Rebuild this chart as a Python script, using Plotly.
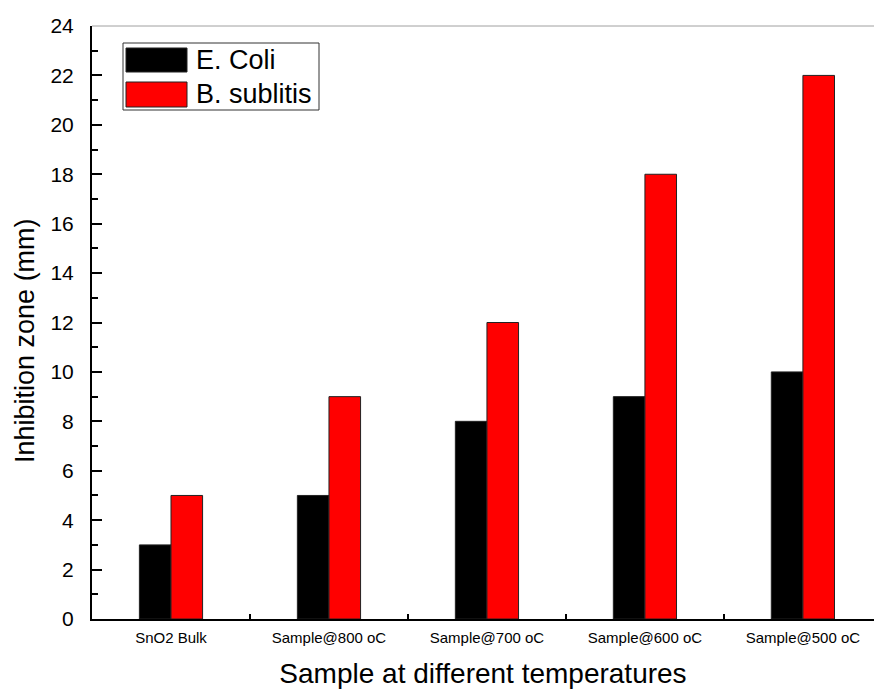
import plotly.graph_objects as go

categories = ["SnO2 Bulk", "Sample@800 oC", "Sample@700 oC", "Sample@600 oC", "Sample@500 oC"]
e_coli = [3, 5, 8, 9, 10]
b_sublitis = [5, 9, 12, 18, 22]
series_names = ["E. Coli", "B. sublitis"]
series_colors = ["#000000", "#ff0000"]
x_title = "Sample at different temperatures"
y_title = "Inhibition zone (mm)"

W, H = 874, 689
L, R, T, B = 92, 0, 26, 70
FONT = "Arial, Liberation Sans, sans-serif"


def px(x):
    return (x - L) / (W - L - R)


def py(y):
    return (H - B - y) / (H - T - B)


fig = go.Figure()
for name, vals, col in zip(series_names, [e_coli, b_sublitis], series_colors):
    fig.add_trace(go.Bar(
        x=categories, y=vals, name=name,
        marker=dict(color=col, line=dict(color="#222222", width=1)),
        showlegend=False,
    ))

shapes = [
    dict(type="line", xref="paper", yref="paper", x0=0, x1=1, y0=1, y1=1,
         line=dict(color="#a0a0a0", width=1)),
    dict(type="rect", xref="paper", yref="paper", x0=px(123), x1=px(319), y0=py(110), y1=py(43),
         line=dict(color="#333333", width=1), fillcolor="rgba(0,0,0,0)"),
    dict(type="rect", xref="paper", yref="paper", x0=px(126), x1=px(187), y0=py(72), y1=py(48),
         line=dict(color="#222222", width=1), fillcolor=series_colors[0]),
    dict(type="rect", xref="paper", yref="paper", x0=px(126), x1=px(187), y0=py(107), y1=py(82),
         line=dict(color="#222222", width=1), fillcolor=series_colors[1]),
]
annotations = [
    dict(text=series_names[0], xref="paper", yref="paper", x=px(194), y=py(60),
         xanchor="left", yanchor="middle", showarrow=False,
         font=dict(family=FONT, size=27, color="black")),
    dict(text=series_names[1], xref="paper", yref="paper", x=px(194), y=py(94),
         xanchor="left", yanchor="middle", showarrow=False,
         font=dict(family=FONT, size=27, color="black")),
    dict(text=y_title, xref="paper", yref="paper", x=px(25), y=py(341),
         xanchor="center", yanchor="middle", textangle=-90, showarrow=False,
         font=dict(family=FONT, size=27, color="black")),
]

fig.update_layout(
    width=W, height=H,
    margin=dict(l=L, r=R, t=T, b=B, pad=0),
    paper_bgcolor="white", plot_bgcolor="white",
    barmode="group", bargap=0.6, bargroupgap=0,
    font=dict(family=FONT, color="black"),
    shapes=shapes, annotations=annotations,
    showlegend=False,
)
fig.update_xaxes(
    type="category", range=[-0.5, 4.45],
    showline=True, linecolor="black", linewidth=2,
    ticks="inside", tickson="boundaries", ticklen=5, tickwidth=2, tickcolor="black",
    showgrid=False, zeroline=False,
    ticklabelstandoff=4,
    tickfont=dict(family=FONT, size=15, color="black"),
    title=dict(text=x_title, font=dict(family=FONT, size=28, color="black"), standoff=20),
)
fig.update_yaxes(
    range=[0, 24], dtick=2, tick0=0,
    showline=True, linecolor="black", linewidth=2,
    ticks="inside", ticklen=10, tickwidth=2, tickcolor="black",
    minor=dict(dtick=1, ticks="inside", ticklen=6, tickwidth=2, tickcolor="black", showgrid=False),
    showgrid=False, zeroline=False,
    ticklabelstandoff=12,
    tickfont=dict(family=FONT, size=21, color="black"),
)

fig.write_html("out.html")
